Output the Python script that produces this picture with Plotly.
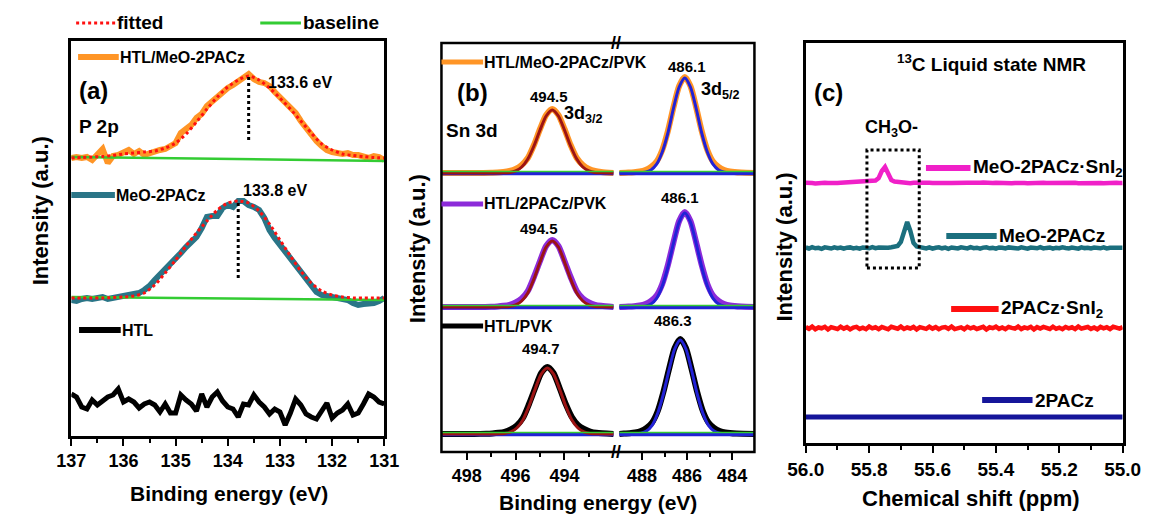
import plotly.graph_objects as go

W, H = 1161, 514
FONT = "Liberation Sans, Arial, sans-serif"

# ======================= DATA =======================
# ---- (a) P 2p XPS ----
be_a = [137.0, 136.9, 136.8, 136.7, 136.6, 136.5, 136.4, 136.3, 136.2, 136.1,
        136.0, 135.9, 135.8, 135.7, 135.6, 135.5, 135.4, 135.3, 135.2, 135.1,
        135.0, 134.9, 134.8, 134.7, 134.6, 134.5, 134.4, 134.3, 134.2, 134.1,
        134.0, 133.9, 133.8, 133.7, 133.6, 133.5, 133.4, 133.3, 133.2, 133.1,
        133.0, 132.9, 132.8, 132.7, 132.6, 132.5, 132.4, 132.3, 132.2, 132.1,
        132.0, 131.9, 131.8, 131.7, 131.6, 131.5, 131.4, 131.3, 131.2, 131.1,
        131.0]
be_a_fit = [137.0, 136.8, 136.6, 136.4, 136.2, 136.0, 135.8, 135.6, 135.4, 135.2,
            135.0, 134.8, 134.6, 134.4, 134.2, 134.0, 133.8, 133.6, 133.4, 133.2,
            133.0, 132.8, 132.6, 132.4, 132.2, 132.0, 131.8, 131.6, 131.4, 131.2,
            131.0]
p2p_htl_meo = [0, 1, 0, 1, -2, 3, 9, -5, 2, 3,
               6, 8, 4, 7, 3, 5, 6, 8, 9, 12,
               15, 25, 29, 33, 40, 44, 52, 57, 62, 66,
               70, 73, 77, 80, 84, 79, 76, 75, 72, 66,
               61, 56, 50, 45, 37, 30, 23, 17, 12, 8,
               6, 5, 4, 5, 3, 3, 2, 0, 2, 1,
               -2]
p2p_htl_meo_fit = [0, 0.5, 1, 1.5, 2.5, 4, 5, 6, 7, 10,
                   15, 24, 36, 49, 61, 71, 78, 82, 78, 70,
                   60, 49, 37, 25, 14, 8, 4, 2.5, 1.5, 0.5,
                   0]
p2p_meo = [-2, -3, -1, 0, -1, 0, 1, -1, 0, 1,
           2, 3, 4, 5, 8, 12, 18, 23, 28, 33,
           38, 45, 51, 56, 61, 70, 81, 82, 82, 90,
           93, 91, 97, 97, 93, 91, 88, 80, 68, 60,
           53, 46, 40, 33, 26, 18, 12, 6, 3, 2,
           2, 1, 0, -2, -5, -7, -6, -6, -5, -3,
           0]
p2p_meo_fit = [0, 0, 0, 0, 0.5, 1, 2, 5, 13, 25,
               38, 52, 65, 77, 88, 95, 97, 95, 87, 74,
               58, 42, 27, 15, 7, 3, 1, 0, 0, 0,
               0]
p2p_htl = [13, 10, 0, -2, 7, 2, 6, 10, 12, 18,
           5, 8, 5, -1, 3, 5, 2, -5, 3, -6,
           -6, 12, 7, 3, -4, 13, 0, 10, 15, 6,
           0, -2, -10, 3, 2, 12, 5, 0, -7, -2,
           -5, -18, -6, 8, 2, -7, -10, -12, -4, 4,
           -11, -6, -3, 3, -8, -6, 3, 13, 10, 5,
           3]
base_a_x = [137.0, 131.0]
p2p_htl_meo_base = [1, -3]
p2p_meo_base = [1, -2]
p2p_peaks = [133.6, 133.8]
p2p_peak_labels = ["133.6 eV", "133.8 eV"]

# ---- (b) Sn 3d XPS ----
sn_l_x = [499.0, 498.0, 497.5, 497.0, 496.75, 496.5, 496.25, 496.0, 495.75, 495.5,
          495.25, 495.0, 494.75, 494.5, 494.25, 494.0, 493.75, 493.5, 493.25, 493.0,
          492.75, 492.5, 492.0]
sn_l_x_pvk = [499.0, 498.0, 497.7, 497.2, 496.95, 496.7, 496.45, 496.2, 495.95, 495.7,
              495.45, 495.2, 494.95, 494.7, 494.45, 494.2, 493.95, 493.7, 493.45, 493.2,
              492.95, 492.7, 492.0]
sn_r_x = [489.0, 488.6, 488.35, 488.1, 487.85, 487.6, 487.35, 487.1, 486.85, 486.6,
          486.35, 486.1, 485.85, 485.6, 485.35, 485.1, 484.85, 484.6, 484.35, 484.1,
          483.6, 483.0]
sn_r_x_pvk = [489.0, 488.8, 488.55, 488.3, 488.05, 487.8, 487.55, 487.3, 487.05, 486.8,
              486.55, 486.3, 486.05, 485.8, 485.55, 485.3, 485.05, 484.8, 484.55, 484.3,
              483.8, 483.0]

meo_l = [0, 0, 0, 0.3, 0.5, 1, 2, 4, 8, 15, 28, 44, 58, 64, 58, 44, 28, 15, 8, 4, 2, 1, 0]
meo_l_fit = [0, 0, 0, 0, 0, 0.2, 0.6, 2, 6, 14, 27, 43, 57, 63, 57, 43, 27, 14, 6, 2, 0.6, 0.2, 0]
meo_r = [0, 0.4, 0.8, 1.5, 3, 6, 11.5, 23, 42, 66, 87, 96, 87, 66, 42, 23, 11.5, 6, 3, 1.5, 0.4, 0]
meo_r_fit = [0, 0, 0, 0.2, 0.9, 3, 8.8, 21, 40, 65, 86, 95, 86, 65, 40, 21, 8.8, 3, 0.9, 0.2, 0, 0]

pacz_l = [0, 0, 0, 0.3, 0.6, 1.2, 2.2, 4.5, 8.5, 16, 30, 46, 61, 67, 61, 46, 30, 16, 8.5, 4.5, 2.2, 1.2, 0]
pacz_l_fit = [0, 0, 0, 0, 0, 0.2, 0.6, 2, 6, 14, 28, 45, 60, 66, 60, 45, 28, 14, 6, 2, 0.6, 0.2, 0]
pacz_r = [0, 0.4, 0.8, 1.5, 3, 6, 11.5, 23, 42, 65, 86, 95, 86, 65, 42, 23, 11.5, 6, 3, 1.5, 0.4, 0]
pacz_r_fit = [0, 0, 0, 0.2, 0.9, 3, 8.7, 21, 40, 64, 85, 94, 85, 64, 40, 21, 8.7, 3, 0.9, 0.2, 0, 0]

pvk_l = [0, 0, 0, 0.3, 0.6, 1.2, 2.2, 4.5, 8.5, 16, 30, 46, 61, 67, 61, 46, 30, 17, 9, 5, 2.5, 1.2, 0]
pvk_l_fit = [0, 0, 0, 0, 0, 0.2, 0.6, 2, 6, 14, 28, 45, 60, 66, 60, 45, 28, 14, 6, 2, 0.6, 0.2, 0]
pvk_r = [0, 0.4, 0.8, 1.5, 3, 6, 11.5, 23, 42, 65, 86, 95, 86, 65, 42, 23, 11.5, 6, 3, 1.5, 0.4, 0]
pvk_r_fit = [0, 0, 0, 0.2, 0.9, 3, 8.7, 21, 40, 64, 85, 94, 85, 64, 40, 21, 8.7, 3, 0.9, 0.2, 0, 0]

sn_base_l_x = [499.0, 492.0]
sn_base_r_x = [489.0, 483.0]
sn_base = [1.5, 1.5]
sn_base_env = [-0.5, -0.5]

sn_l_ticks = [498, 496, 494]
sn_l_minor = [497, 495, 493]
sn_r_ticks = [488, 486, 484]
sn_r_minor = [487, 485, 483]

# ---- (c) 13C liquid NMR ----
shift_c = [56.00, 55.99, 55.98, 55.97, 55.96, 55.95, 55.94, 55.93, 55.92, 55.91,
           55.90, 55.89, 55.88, 55.87, 55.86, 55.85, 55.84, 55.83, 55.82, 55.81,
           55.80, 55.79, 55.78, 55.77, 55.76, 55.75, 55.74, 55.73, 55.72, 55.71,
           55.70, 55.69, 55.68, 55.67, 55.66, 55.65, 55.64, 55.63, 55.62, 55.61,
           55.60, 55.59, 55.58, 55.57, 55.56, 55.55, 55.54, 55.53, 55.52, 55.51,
           55.50, 55.49, 55.48, 55.47, 55.46, 55.45, 55.44, 55.43, 55.42, 55.41,
           55.40, 55.39, 55.38, 55.37, 55.36, 55.35, 55.34, 55.33, 55.32, 55.31,
           55.30, 55.29, 55.28, 55.27, 55.26, 55.25, 55.24, 55.23, 55.22, 55.21,
           55.20, 55.19, 55.18, 55.17, 55.16, 55.15, 55.14, 55.13, 55.12, 55.11,
           55.10, 55.09, 55.08, 55.07, 55.06, 55.05, 55.04, 55.03, 55.02, 55.01,
           55.00]
nmr_meo_sni2 = [0.2, 0.5, 0, -0.4, 0.1, 0.5, 0.3, 0, -0.3, 0.4,
                0, 0.3, 0.5, 0.1, 0.4, 0.8, 0.6, 1, 1.5, 2,
                2, 2, 2.5, 5, 12, 16, 10, 3, 1.5, 1,
                0.5, 0.3, 0, -0.2, 0.2, 0.4, 0, -0.3, 0.1, 0.3,
                0, 0.2, -0.2, 0, 0.3, 0.1, -0.1, 0.2, 0, -0.3,
                0.1, 0.3, 0.2, -0.1, 0, 0.2, 0.4, 0, -0.2, 0.1,
                0.3, 0, -0.1, 0.2, 0.1, -0.3, 0, 0.3, 0.2, 0,
                -0.2, 0.1, 0.3, 0, -0.1, 0.2, 0, 0.1, -0.2, 0.2,
                0.3, 0, -0.1, 0.1, 0.3, 0.2, -0.2, 0, 0.2, 0.1,
                -0.1, 0.3, 0, 0.1, -0.2, 0.2, 0.1, 0, 0.3, -0.1,
                0.1]
nmr_meo = [0.5, -0.5, 0.8, -0.3, 0.2, -0.8, 0.6, 0, -0.5, 0.7,
           -0.2, 0.4, -0.7, 0.3, 0.6, -0.4, 0.1, -0.6, 0.5, 0.2,
           -0.3, 0.8, -0.1, 0.4, 0, 0.6, 0.3, 0.8, 1, 2,
           6, 18, 26, 17, 5, 1.5, 0.8, 0.3, -0.4, 0.6,
           -0.6, 0.2, 0.7, -0.3, 0.4, -0.8, 0.5, 0, -0.5, 0.6,
           0.2, -0.4, 0.8, -0.2, 0.3, -0.6, 0.4, 0.7, -0.3, 0.1,
           -0.7, 0.5, 0.2, -0.4, 0.6, -0.1, 0.3, -0.5, 0.7, 0,
           -0.6, 0.4, 0.2, -0.3, 0.8, -0.4, 0.1, 0.5, -0.7, 0.3,
           -0.2, 0.6, 0, -0.5, 0.4, 0.2, -0.6, 0.7, -0.1, 0.3,
           -0.4, 0.5, 0.1, -0.3, 0.6, -0.5, 0.2, 0.4, -0.2, 0.5,
           0.3]
nmr_pacz_sni2 = [1.0, -0.8, 1.4, -1.2, 0.5, -0.3, 1.2, -1.5, 0.8, 0.2,
                 -1.0, 1.3, -0.6, 0.9, -1.4, 0.4, 1.1, -0.9, 0.3, -1.2,
                 1.5, -0.4, 0.7, -1.1, 1.0, -0.2, -1.3, 1.2, 0.1, -0.7,
                 1.4, -1.0, 0.5, -0.5, 1.1, -1.4, 0.8, 0.3, -0.9, 1.3,
                 -0.6, 0.9, -1.2, 0.4, 1.0, -0.8, 1.5, -1.1, 0.2, 0.6,
                 -1.3, 1.2, -0.4, 0.8, -1.0, 0.3, 1.1, -1.5, 0.7, -0.2,
                 1.3, -0.9, 0.5, -1.2, 1.0, 0.1, -0.7, 1.4, -1.1, 0.6,
                 -0.3, 1.2, -1.4, 0.9, -0.5, 1.1, 0.2, -1.0, 1.3, -0.8,
                 0.4, -1.2, 1.0, -0.3, 0.7, -1.1, 1.4, -0.6, 0.2, 1.0,
                 -0.9, 0.5, -1.3, 1.1, -0.4, 0.8, -1.0, 1.2, 0.3, -0.7,
                 0.9]
shift_c_coarse = [56.0, 55.9, 55.8, 55.7, 55.6, 55.5, 55.4, 55.3, 55.2, 55.1, 55.0]
nmr_pacz = [0, 0.2, 0, -0.2, 0.1, 0, -0.1, 0.2, 0, 0.1, 0]
ch3o_box_shift = [55.807, 55.642]
nmr_ticks = [56.0, 55.8, 55.6, 55.4, 55.2, 55.0]
nmr_tick_text = ["56.0", "55.8", "55.6", "55.4", "55.2", "55.0"]

# ======================= STYLE / LAYOUT =======================
ORANGE = "#FF9526"
TEAL_A = "#2A7587"
TEAL_C = "#1B6F7E"
RED = "#FF1010"
GREEN = "#33CC33"
PURPLE = "#8C2BD9"
DKRED = "#9C1414"
BLUE = "#2222D6"
MAGENTA = "#F020C8"
NAVY = "#15159A"

OFF_A = {"htl_meo": 278, "meo": 138, "htl": 29}
OFF_B = {"meo": 279, "pacz": 145, "pvk": 18}
OFF_C = {"meo_sni2": 260, "meo": 195, "pacz_sni2": 115, "pacz": 26}
DROP_A = [18, 20]


def shift(vals, off):
    return [v + off for v in vals]


fig = go.Figure()


def line(x, y, xa, ya, color, width, dash="solid", shape="linear"):
    ld = dict(color=color, width=width, dash=dash, shape=shape)
    if shape == "spline":
        ld["smoothing"] = 0.7
    fig.add_trace(go.Scatter(x=x, y=y, xaxis=xa, yaxis=ya, mode="lines", line=ld,
                             showlegend=False, hoverinfo="skip"))


# ---- panel (a) ----
line(be_a, shift(p2p_htl_meo, OFF_A["htl_meo"]), "x", "y", ORANGE, 6)
line(be_a, shift(p2p_meo, OFF_A["meo"]), "x", "y", TEAL_A, 6)
line(be_a, shift(p2p_htl, OFF_A["htl"]), "x", "y", "black", 5)
line(base_a_x, shift(p2p_htl_meo_base, OFF_A["htl_meo"]), "x", "y", GREEN, 2.5)
line(base_a_x, shift(p2p_meo_base, OFF_A["meo"]), "x", "y", GREEN, 2.5)
line(be_a_fit, shift(p2p_htl_meo_fit, OFF_A["htl_meo"]), "x", "y", RED, 3, "dot", "spline")
line(be_a_fit, shift(p2p_meo_fit, OFF_A["meo"]), "x", "y", RED, 3, "dot", "spline")
for pk, key, data, drop in zip(p2p_peaks, ["htl_meo", "meo"], [p2p_htl_meo, p2p_meo], DROP_A):
    line([pk, pk], [OFF_A[key] + drop, OFF_A[key] + max(data)], "x", "y", "black", 3, "dot")

# ---- panel (b) ----
b_sets = [
    ("meo", ORANGE, sn_l_x, meo_l, meo_l_fit, sn_r_x, meo_r, meo_r_fit),
    ("pacz", PURPLE, sn_l_x, pacz_l, pacz_l_fit, sn_r_x, pacz_r, pacz_r_fit),
    ("pvk", "black", sn_l_x_pvk, pvk_l, pvk_l_fit, sn_r_x_pvk, pvk_r, pvk_r_fit),
]
for key, col, lx, ly, lf, rx, ry, rf in b_sets:
    off = OFF_B[key]
    line(lx, shift(ly, off), "x2", "y2", col, 6, shape="spline")
    line(rx, shift(ry, off), "x3", "y2", col, 6, shape="spline")
    line(sn_base_l_x, shift(sn_base_env, off), "x2", "y2", BLUE, 3.5)
    line(sn_base_r_x, shift(sn_base_env, off), "x3", "y2", BLUE, 3.5)
    line(lx, shift(lf, off), "x2", "y2", DKRED, 3, shape="spline")
    line(rx, shift(rf, off), "x3", "y2", BLUE, 3, shape="spline")
    line(sn_base_l_x, shift(sn_base, off), "x2", "y2", GREEN, 1.5)
    line(sn_base_r_x, shift(sn_base, off), "x3", "y2", GREEN, 1.5)

# ---- panel (c) ----
line(shift_c, shift(nmr_meo_sni2, OFF_C["meo_sni2"]), "x4", "y4", MAGENTA, 4.5)
line(shift_c, shift(nmr_meo, OFF_C["meo"]), "x4", "y4", TEAL_C, 4.5)
line(shift_c, shift(nmr_pacz_sni2, OFF_C["pacz_sni2"]), "x4", "y4", RED, 4.5)
line(shift_c_coarse, shift(nmr_pacz, OFF_C["pacz"]), "x4", "y4", NAVY, 5)


def px(x):
    return x / W


def py(y):
    return 1 - y / H


LW = 2.5


def xaxis(domain, rng, anchor, tickvals, ticktext=None, minor=None, showline=True, mirror=True, size=18):
    d = dict(domain=[px(domain[0]), px(domain[1])], range=rng, anchor=anchor,
             tickmode="array", tickvals=tickvals, ticks="outside", ticklen=7, tickwidth=2,
             tickcolor="black", tickfont=dict(family=FONT, size=size, color="black", weight="bold"),
             showgrid=False, zeroline=False, showline=showline, mirror=mirror,
             linecolor="black", linewidth=LW)
    if ticktext is not None:
        d["ticktext"] = ticktext
    if minor is not None:
        d["minor"] = dict(ticks="outside", ticklen=4, tickwidth=2, tickcolor="black", **minor)
    return d


def yaxis(domain, rng, anchor, showline=True):
    return dict(domain=[py(domain[1]), py(domain[0])], range=rng, anchor=anchor,
                showticklabels=False, ticks="", showgrid=False, zeroline=False,
                showline=showline, mirror=showline, linecolor="black", linewidth=LW)


layout = dict(
    width=W, height=H, autosize=False,
    margin=dict(l=0, r=0, t=0, b=0),
    paper_bgcolor="white", plot_bgcolor="white",
    showlegend=False,
    xaxis=xaxis((55, 378), [137, 131], "y", [137, 136, 135, 134, 133, 132, 131],
                minor=dict(dtick=0.5)),
    yaxis=yaxis((41, 436), [0, 395], "x"),
    xaxis2=xaxis((437, 616), [499.03, 491.94], "y2", sn_l_ticks,
                 minor=dict(tickmode="array", tickvals=sn_l_minor), showline=False, mirror=False),
    xaxis3=xaxis((620, 760), [489.03, 483.01], "y2", sn_r_ticks,
                 minor=dict(tickmode="array", tickvals=sn_r_minor), showline=False, mirror=False),
    yaxis2=yaxis((43, 452), [0, 409], "x2", showline=False),
    xaxis4=xaxis((813, 1140), [56.0, 55.0], "y4", nmr_ticks, ticktext=nmr_tick_text,
                 minor=dict(dtick=0.1), size=19),
    yaxis4=yaxis((43, 443), [0, 400], "x4"),
)
fig.update_layout(**layout)

shapes = []
# panel (b) frame
shapes.append(dict(type="rect", xref="paper", yref="paper", x0=px(437), x1=px(760),
                   y0=py(452), y1=py(43), line=dict(color="black", width=LW)))
# CH3O- dotted box
shapes.append(dict(type="rect", xref="x4", yref="y4", x0=ch3o_box_shift[0], x1=ch3o_box_shift[1],
                   y0=175, y1=293, line=dict(color="black", width=3, dash="dot")))


def swatch(x0, x1, y, color, width, dash="solid"):
    shapes.append(dict(type="line", xref="paper", yref="paper", x0=px(x0), x1=px(x1),
                       y0=py(y), y1=py(y), line=dict(color=color, width=width, dash=dash)))


swatch(60, 101, 23, RED, 3, "dot")
swatch(250, 292, 23, GREEN, 3)
swatch(62, 104, 57, ORANGE, 6)
swatch(55, 100, 195, TEAL_A, 6)
swatch(63, 106, 330, "black", 6)
swatch(437, 480, 62, ORANGE, 5)
swatch(437, 480, 204, PURPLE, 5)
swatch(437, 480, 326, "black", 5)
swatch(937, 983, 168, MAGENTA, 6)
swatch(958, 1010, 236, TEAL_C, 6)
swatch(963, 1012, 309, RED, 6)
swatch(995, 1047, 400, NAVY, 6)

annotations = []


def ann(text, x, y, size, xanchor="left", angle=0):
    annotations.append(dict(text=text, x=px(x), y=py(y), xref="paper", yref="paper",
                            xanchor=xanchor, yanchor="middle", showarrow=False, textangle=angle,
                            borderpad=0,
                            font=dict(family=FONT, size=size, color="black", weight="bold")))


# axis titles
ann("Binding energy (eV)", 218, 493, 21, "center")
ann("Binding energy (eV)", 599, 502, 21, "center")
ann("Chemical shift (ppm)", 983, 498, 22, "center")
ann("Intensity (a.u.)", 23, 211, 22, "center", -90)
ann("Intensity (a.u.)", 412, 249, 22, "center", -90)
ann("Intensity (a.u.)", 790, 247, 22, "center", -90)

# panel (a)
ann("fitted", 101, 23, 19)
ann("baseline", 293, 23, 19)
ann("HTL/MeO-2PACz", 104, 57, 16)
ann("(a)", 62, 90, 24)
ann("P 2p", 62, 126, 19)
ann(p2p_peak_labels[0], 257, 82, 16)
ann("MeO-2PACz", 100, 195, 16)
ann(p2p_peak_labels[1], 231, 190, 16)
ann("HTL", 106, 330, 16)

# panel (b)
ann("HTL/MeO-2PACz/PVK", 480, 62, 16)
ann("(b)", 452, 92, 24)
ann("Sn 3d", 441, 130, 19)
ann("494.5", 548, 96, 15, "center")
ann("3d<sub>3/2</sub>", 562, 115, 18)
ann("486.1", 690, 67, 15, "center")
ann("3d<sub>5/2</sub>", 704, 90, 18)
ann("HTL/2PACz/PVK", 480, 204, 16)
ann("494.5", 538, 228, 15, "center")
ann("486.1", 683, 198, 15, "center")
ann("HTL/PVK", 480, 326, 16)
ann("494.7", 540, 348, 15, "center")
ann("486.3", 676, 320, 15, "center")
ann("//", 617, 43, 18, "center")
ann("//", 617, 452, 18, "center")

# panel (c)
ann("<sup>13</sup>C Liquid state NMR", 906, 63, 19)
ann("(c)", 820, 92, 24)
ann("CH<sub>3</sub>O-", 873, 128, 18)
ann("MeO-2PACz·SnI<sub>2</sub>", 985, 168, 19)
ann("MeO-2PACz", 1011, 236, 19)
ann("2PACz·SnI<sub>2</sub>", 1013, 309, 19)
ann("2PACz", 1048, 400, 19)

fig.update_layout(shapes=shapes, annotations=annotations)
fig.write_html("out.html", config={"displayModeBar": False},
               post_script="document.body.style.margin='0';document.body.style.overflow='hidden';")
